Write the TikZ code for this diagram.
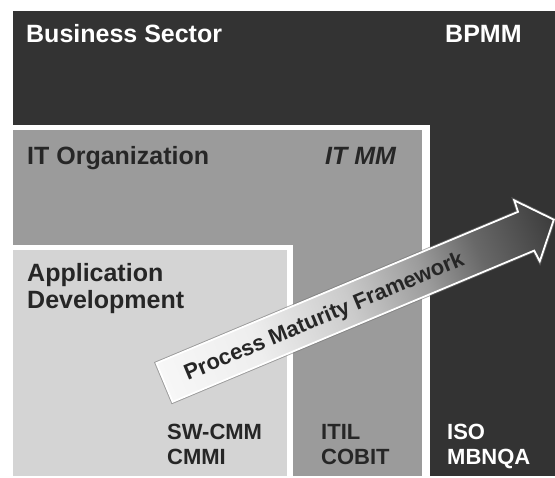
\documentclass[tikz,border=0pt]{standalone}
\usepackage{fontspec}
\setmainfont{Liberation Sans}
\definecolor{darkbg}{HTML}{333333}
\definecolor{midgray}{HTML}{9B9B9B}
\definecolor{lightbox}{HTML}{D4D4D4}
\definecolor{darktext}{HTML}{262626}
\definecolor{shA}{HTML}{F7F7F7}
\definecolor{shB}{HTML}{EEEEEE}
\definecolor{shC}{HTML}{CBCBCB}
\definecolor{shD}{HTML}{9C9C9C}
\definecolor{shE}{HTML}{686868}
\definecolor{shF}{HTML}{3C3C3C}
\pgfdeclarehorizontalshading{arrowshade}{100bp}{color(0bp)=(shA); color(25bp)=(shA); color(36.8bp)=(shB); color(48.7bp)=(shC); color(58.2bp)=(shD); color(65.3bp)=(shE); color(75bp)=(shF); color(100bp)=(shF)}
\begin{document}
\begin{tikzpicture}[x=1pt,y=1pt,
  hdr/.style={anchor=base west, inner sep=0pt, font=\fontsize{25}{27}\selectfont\bfseries},
  lbl/.style={anchor=base west, inner sep=0pt, font=\fontsize{22}{25}\selectfont\bfseries},
  arrowtxt/.style={anchor=base west, inner sep=0pt, text=darktext, font=\fontsize{22}{24}\selectfont\bfseries},
  arrowline/.style={line width=1.8pt, draw=white, line join=miter, miter limit=4}
]
\useasboundingbox (0,0) rectangle (555,478);
\fill[white] (0,0) rectangle (555,478);
% Business sector (dark)
\fill[darkbg] (13,2) rectangle (555,467);
% IT organization (medium) with white frame
\fill[white] (13,2) rectangle (430,353);
\fill[midgray] (13,2) rectangle (422,348);
% Application development (light) with white frame
\fill[white] (13,2) rectangle (293,233);
\fill[lightbox] (13,2) rectangle (287,228);

% texts
\node[hdr, text=white] (bs) at (26,435) {Business Sector};
\node[hdr, text=white] (bpmm) at (445,435) {BPMM};
\node[hdr, text=darktext] (ito) at (27,313) {IT Organization};
\node[hdr, text=darktext, font=\fontsize{25}{27}\selectfont\bfseries\itshape] (itmm) at (325,313) {IT MM};
\node[hdr, text=darktext] (app1) at (27,196) {Application};
\node[hdr, text=darktext] (app2) at (27,169) {Development};
\node[lbl, text=darktext] (sw1) at (167,38) {SW-CMM};
\node[lbl, text=darktext] (sw2) at (167,13) {CMMI};
\node[lbl, text=darktext] (it1) at (321,38) {ITIL};
\node[lbl, text=darktext] (it2) at (321,13) {COBIT};
\node[lbl, text=white] (iso1) at (447,38) {ISO};
\node[lbl, text=white] (iso2) at (447,13) {MBNQA};

% arrow
\begin{scope}[transform canvas={shift={(164.5pt,95.5pt)},rotate=22.7}]
  \draw[line width=3.6pt, draw=black!55, opacity=0.6, line join=miter]
    (0,21) -- (392,21) -- (393,33) -- (422,0) -- (393,-33) -- (392,-21) -- (0,-21) -- cycle;
  \shade[shading=arrowshade, arrowline]
    (0,21) -- (392,21) -- (393,33) -- (422,0) -- (393,-33) -- (392,-21) -- (0,-21) -- cycle;
\end{scope}
\node[arrowtxt, rotate=22.7] (pmf) at (187.7,97.1) {Process Maturity Framework};
\end{tikzpicture}
\end{document}
